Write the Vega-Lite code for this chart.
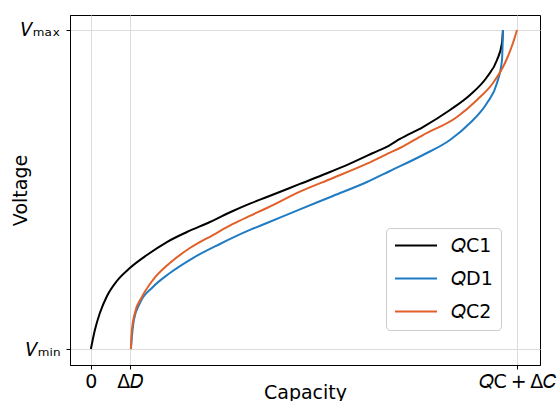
{
  "$schema": "https://vega.github.io/schema/vega-lite/v6.json",
  "autosize": {"type": "none"},
  "padding": {"left": 70, "top": 15, "right": 17, "bottom": 36},
  "width": 470,
  "height": 350,
  "background": "white",
  "config": {
    "font": "DejaVu Sans",
    "view": {"stroke": "#000000", "strokeWidth": 1},
    "axis": {
      "domainColor": "#000000",
      "tickColor": "#000000",
      "tickSize": 4,
      "labelFont": "DejaVu Sans",
      "labelFontSize": 19,
      "labelColor": "#000000",
      "titleFont": "DejaVu Sans",
      "titleFontSize": 19,
      "titleFontWeight": "normal",
      "titleColor": "#000000",
      "gridColor": "#dcdcdc",
      "gridWidth": 1
    }
  },
  "data": {
    "values": [
      {"series": "QC1", "capacity": 0.0, "voltage": 0.0},
      {"series": "QC1", "capacity": 0.0094, "voltage": 0.0596},
      {"series": "QC1", "capacity": 0.0211, "voltage": 0.1129},
      {"series": "QC1", "capacity": 0.0376, "voltage": 0.1655},
      {"series": "QC1", "capacity": 0.061, "voltage": 0.2133},
      {"series": "QC1", "capacity": 0.0915, "voltage": 0.2539},
      {"series": "QC1", "capacity": 0.1315, "voltage": 0.2947},
      {"series": "QC1", "capacity": 0.1784, "voltage": 0.3354},
      {"series": "QC1", "capacity": 0.2254, "voltage": 0.3668},
      {"series": "QC1", "capacity": 0.2793, "voltage": 0.3981},
      {"series": "QC1", "capacity": 0.3333, "voltage": 0.4327},
      {"series": "QC1", "capacity": 0.3732, "voltage": 0.4558},
      {"series": "QC1", "capacity": 0.4131, "voltage": 0.4765},
      {"series": "QC1", "capacity": 0.4906, "voltage": 0.5175},
      {"series": "QC1", "capacity": 0.554, "voltage": 0.5509},
      {"series": "QC1", "capacity": 0.608, "voltage": 0.5811},
      {"series": "QC1", "capacity": 0.662, "voltage": 0.6144},
      {"series": "QC1", "capacity": 0.7019, "voltage": 0.6395},
      {"series": "QC1", "capacity": 0.7254, "voltage": 0.6584},
      {"series": "QC1", "capacity": 0.7793, "voltage": 0.6959},
      {"series": "QC1", "capacity": 0.8427, "voltage": 0.7492},
      {"series": "QC1", "capacity": 0.8897, "voltage": 0.7962},
      {"series": "QC1", "capacity": 0.9296, "voltage": 0.8527},
      {"series": "QC1", "capacity": 0.9531, "voltage": 0.906},
      {"series": "QC1", "capacity": 0.9648, "voltage": 0.9592},
      {"series": "QC1", "capacity": 0.9671, "voltage": 1.0},

      {"series": "QD1", "capacity": 0.0939, "voltage": 0.0},
      {"series": "QD1", "capacity": 0.0962, "voltage": 0.0376},
      {"series": "QD1", "capacity": 0.1009, "voltage": 0.0909},
      {"series": "QD1", "capacity": 0.115, "voltage": 0.1442},
      {"series": "QD1", "capacity": 0.1455, "voltage": 0.1944},
      {"series": "QD1", "capacity": 0.1854, "voltage": 0.2382},
      {"series": "QD1", "capacity": 0.2394, "voltage": 0.2853},
      {"series": "QD1", "capacity": 0.3028, "voltage": 0.3293},
      {"series": "QD1", "capacity": 0.3732, "voltage": 0.3733},
      {"series": "QD1", "capacity": 0.4131, "voltage": 0.3951},
      {"series": "QD1", "capacity": 0.4906, "voltage": 0.438},
      {"series": "QD1", "capacity": 0.5681, "voltage": 0.4798},
      {"series": "QD1", "capacity": 0.6479, "voltage": 0.5235},
      {"series": "QD1", "capacity": 0.7019, "voltage": 0.5581},
      {"series": "QD1", "capacity": 0.7793, "voltage": 0.6082},
      {"series": "QD1", "capacity": 0.8427, "voltage": 0.6552},
      {"series": "QD1", "capacity": 0.8897, "voltage": 0.7085},
      {"series": "QD1", "capacity": 0.9296, "voltage": 0.7712},
      {"series": "QD1", "capacity": 0.9531, "voltage": 0.8339},
      {"series": "QD1", "capacity": 0.9648, "voltage": 0.906},
      {"series": "QD1", "capacity": 0.9671, "voltage": 1.0},

      {"series": "QC2", "capacity": 0.0939, "voltage": 0.0},
      {"series": "QC2", "capacity": 0.0962, "voltage": 0.0596},
      {"series": "QC2", "capacity": 0.1033, "voltage": 0.1129},
      {"series": "QC2", "capacity": 0.1197, "voltage": 0.163},
      {"series": "QC2", "capacity": 0.1455, "voltage": 0.2163},
      {"series": "QC2", "capacity": 0.1854, "voltage": 0.2696},
      {"series": "QC2", "capacity": 0.2324, "voltage": 0.3166},
      {"series": "QC2", "capacity": 0.2864, "voltage": 0.3574},
      {"series": "QC2", "capacity": 0.3333, "voltage": 0.3921},
      {"series": "QC2", "capacity": 0.3732, "voltage": 0.4175},
      {"series": "QC2", "capacity": 0.4131, "voltage": 0.4421},
      {"series": "QC2", "capacity": 0.4906, "voltage": 0.4934},
      {"series": "QC2", "capacity": 0.5681, "voltage": 0.5362},
      {"series": "QC2", "capacity": 0.6479, "voltage": 0.5812},
      {"series": "QC2", "capacity": 0.7019, "voltage": 0.6156},
      {"series": "QC2", "capacity": 0.7254, "voltage": 0.6302},
      {"series": "QC2", "capacity": 0.7793, "voltage": 0.6708},
      {"series": "QC2", "capacity": 0.8592, "voltage": 0.7273},
      {"series": "QC2", "capacity": 0.9061, "voltage": 0.7806},
      {"series": "QC2", "capacity": 0.9437, "voltage": 0.8339},
      {"series": "QC2", "capacity": 0.9718, "voltage": 0.8966},
      {"series": "QC2", "capacity": 0.9906, "voltage": 0.9592},
      {"series": "QC2", "capacity": 1.0, "voltage": 1.0}
    ]
  },
  "mark": {"type": "line", "strokeWidth": 2, "interpolate": "monotone"},
  "encoding": {
    "x": {
      "field": "capacity",
      "type": "quantitative",
      "scale": {"domain": [-0.049, 1.054], "nice": false, "zero": false},
      "axis": {
        "title": "Capacity",
        "values": [0, 0.0915, 1],
        "labelExpr": "datum.value == 0 ? '0' : (datum.value < 0.5 ? 'Δ𝐷' : '𝑄C\u2009+\u2009Δ𝐶')",
        "labelPadding": 3,
        "titleY": 18
      }
    },
    "y": {
      "field": "voltage",
      "type": "quantitative",
      "scale": {"domain": [-0.05, 1.047], "nice": false, "zero": false},
      "axis": {
        "title": "Voltage",
        "values": [0, 1],
        "labelExpr": "datum.value == 0 ? '𝑉ₘᵢₙ' : '𝑉ₘₐₓ'",
        "labelPadding": 6,
        "titleX": -40
      }
    },
    "color": {
      "field": "series",
      "type": "nominal",
      "sort": ["QC1", "QD1", "QC2"],
      "scale": {"domain": ["QC1", "QD1", "QC2"], "range": ["#000000", "#1f7cc4", "#e0602a"]},
      "legend": {
        "title": null,
        "orient": "none",
        "legendX": 316,
        "legendY": 213,
        "symbolType": "stroke",
        "symbolSize": 1764,
        "symbolStrokeWidth": 2,
        "clipHeight": 19,
        "labelFontSize": 19,
        "labelFont": "DejaVu Sans",
        "labelColor": "#000000",
        "labelOffset": 13,
        "rowPadding": 13,
        "padding": 8,
        "fillColor": "white",
        "strokeColor": "#cccccc",
        "cornerRadius": 4,
        "labelExpr": "datum.value == 'QC1' ? '𝑄C1' : (datum.value == 'QD1' ? '𝑄D1' : '𝑄C2')"
      }
    }
  }
}
